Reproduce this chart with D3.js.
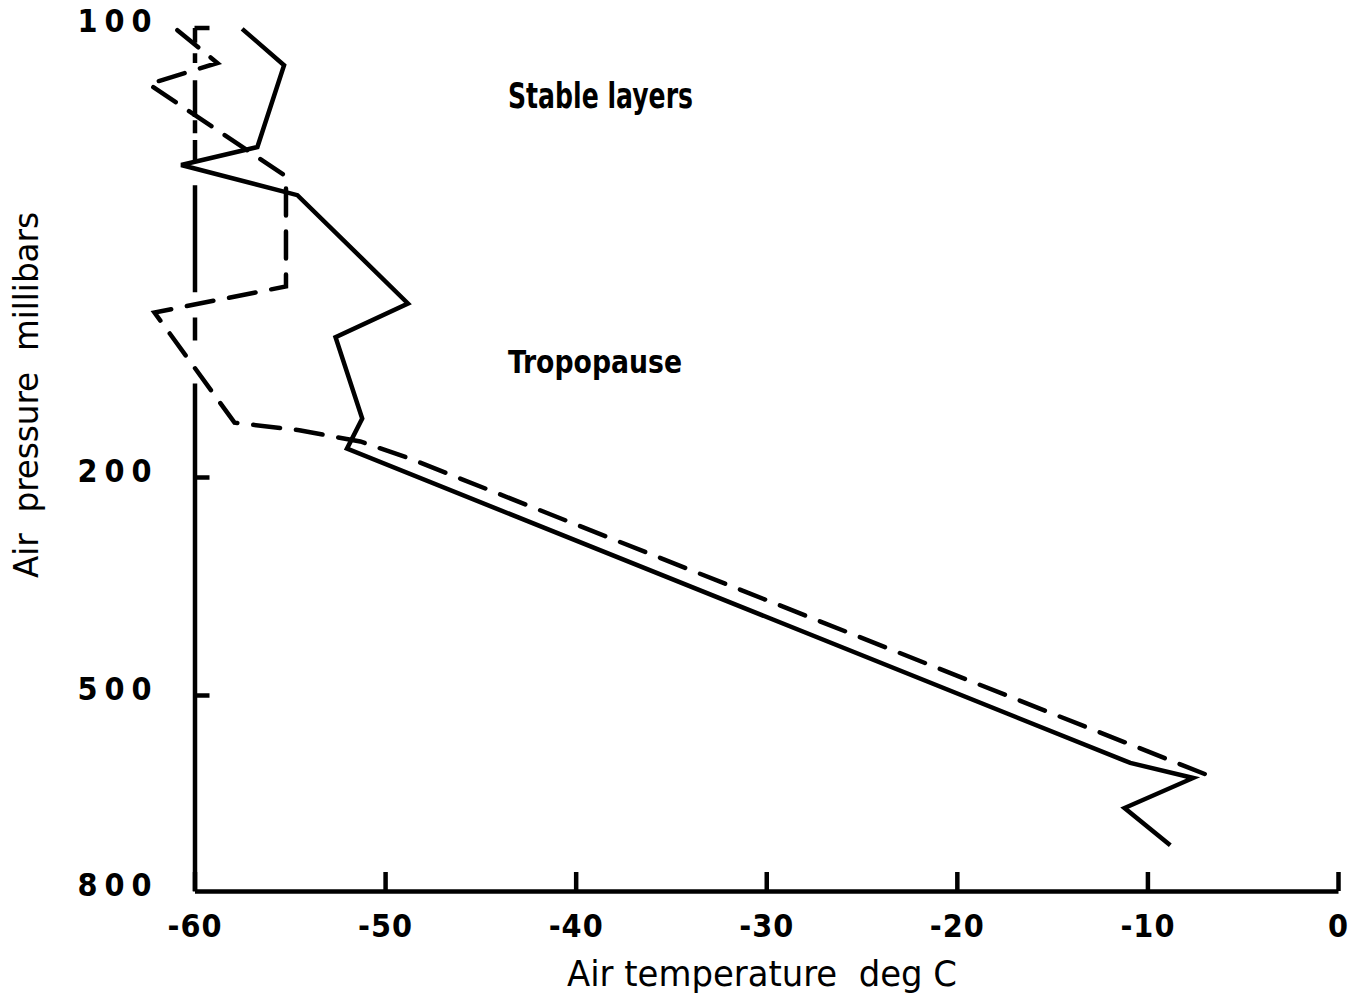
<!DOCTYPE html>
<html>
<head>
<meta charset="utf-8">
<script src="https://cdn.jsdelivr.net/npm/d3@7"></script>
<style>
    body { margin: 0; background: #fff; }
    svg { display: block; }
    .axis path, .axis line { stroke: #000; stroke-width: 4.5; fill: none; }
    .axis text { font-family: "DejaVu Sans Condensed", "Liberation Sans Narrow", sans-serif; font-weight: bold; fill: #000; font-size: 32px; }
    .line { fill: none; stroke: #000; stroke-width: 4.5; stroke-linejoin: miter; }
    .line-dashed { stroke-dasharray: 27 16; stroke-linecap: round; }
    .label { font-family: "DejaVu Sans Condensed", "Liberation Sans Narrow", sans-serif; fill: #000; }
</style>
</head>
<body>
<div id="vis-container"></div>
<script>
// Profile 1 (solid) : temperature in deg C and pressure in mb
var solidTemp = [-57.5, -55.3, -56.7, -60.7, -54.6, -48.8, -52.6, -51.2, -52.0, -10.9, -7.6, -11.2, -8.8];
var solidPressure = [100.3, 108.4, 126.6, 130.6, 137.3, 161.4, 168.9, 187.0, 193.7, 604, 627, 673, 730];

// Profile 2 (dashed)
var dashedTemp = [-60.9, -58.8, -62.4, -55.2, -55.2, -62.1, -57.9, -54.5, -51.3, -48.7, -6.6];
var dashedPressure = [100.6, 107.9, 112.6, 133.1, 157.6, 163.4, 187.9, 189.6, 192.1, 195.9, 625.5];

// ticks
var tempTicks = [-60, -50, -40, -30, -20, -10, 0];
var pressureTicks = [100, 200, 500, 800];

// pressure ranges where the drawn pressure axis is broken
var axisGaps = [[103.3, 105.6], [107.8, 111.6], [119.8, 120.5], [123.4, 124.9], [129.4, 135.0], [158.8, 164.4], [169.5, 179.1]];

// annotations
var noteText = ["Stable layers", "Tropopause"];
var noteTemp = [-43.55, -43.55];
var notePressure = [117.9, 176.9];

var width = 1356;
var height = 1001;
var margins = { top: 27.5, right: 18, bottom: 110, left: 194.5 };

var svg = d3.select("#vis-container").append("svg").attr("width", width).attr("height", height);

// x: temperature, y: pressure (the figure's pressure spacing is irregular, so a piecewise scale)
var x = d3.scaleLinear().domain([-60, 0]).range([margins.left, width - margins.right]);
var y = d3.scaleLinear().domain(pressureTicks).range([margins.top, 477, 695, height - margins.bottom]);

// axes, ticks pointing inwards
var xAxis = d3.axisBottom(x).tickValues(tempTicks).tickSizeInner(-19).tickSizeOuter(0).tickFormat(d3.format("d"));
var yAxis = d3.axisLeft(y).tickValues(pressureTicks).tickSizeInner(-15).tickSizeOuter(0);

var xg = svg.append("g")
    .attr("class", "x axis")
    .attr("transform", "translate(0," + y(800) + ")")
    .call(xAxis);
xg.selectAll("text").attr("y", 35).attr("dy", "0.35em").style("letter-spacing", "1px")
    .text(function (d) { return d === 0 ? "0" : String(d).replace("\u2212", "-"); });

var yg = svg.append("g")
    .attr("class", "y axis")
    .attr("transform", "translate(" + x(-60) + ",0)")
    .call(yAxis);
yg.selectAll("text").attr("x", -36).attr("y", -7).attr("dy", "0.35em").style("letter-spacing", "7px");
yg.selectAll(".tick").filter(function (d) { return d === 800; }).select("line").remove();

// broken pressure axis line
var pos = y(100);
var pieces = [];
axisGaps.forEach(function (g) {
    pieces.push(y(g[0]) - pos, y(g[1]) - y(g[0]));
    pos = y(g[1]);
});
pieces.push(2000, 0);
yg.select(".domain").attr("stroke-dasharray", pieces.join(" "));

// profiles
var line = d3.line()
    .x(function (d) { return x(d[0]); })
    .y(function (d) { return y(d[1]); });

svg.append("path")
    .datum(d3.zip(dashedTemp, dashedPressure))
    .attr("class", "line line-dashed")
    .attr("d", line);

svg.append("path")
    .datum(d3.zip(solidTemp, solidPressure))
    .attr("class", "line line-solid")
    .attr("d", line);

// annotations
svg.selectAll(".note")
    .data(d3.zip(noteText, noteTemp, notePressure))
    .enter().append("text")
    .attr("class", "label note")
    .attr("x", function (d) { return x(d[1]); })
    .attr("y", function (d) { return y(d[2]); })
    .attr("font-weight", "bold")
    .attr("font-size", function (d, i) { return i === 0 ? 35 : 32; })
    .attr("textLength", function (d, i) { return i === 0 ? 185 : 174; })
    .attr("lengthAdjust", "spacingAndGlyphs")
    .text(function (d) { return d[0]; });

// axis titles
svg.append("text")
    .attr("class", "label")
    .attr("x", 762)
    .attr("y", 986)
    .attr("text-anchor", "middle")
    .attr("font-size", 36)
    .attr("textLength", 390)
    .attr("lengthAdjust", "spacingAndGlyphs")
    .style("white-space", "pre")
    .text("Air temperature  deg C");

svg.append("text")
    .attr("class", "label")
    .attr("transform", "translate(38,395) rotate(-90)")
    .attr("text-anchor", "middle")
    .attr("font-size", 34)
    .attr("textLength", 366)
    .attr("lengthAdjust", "spacingAndGlyphs")
    .style("white-space", "pre")
    .text("Air  pressure  millibars");
</script>
</body>
</html>
